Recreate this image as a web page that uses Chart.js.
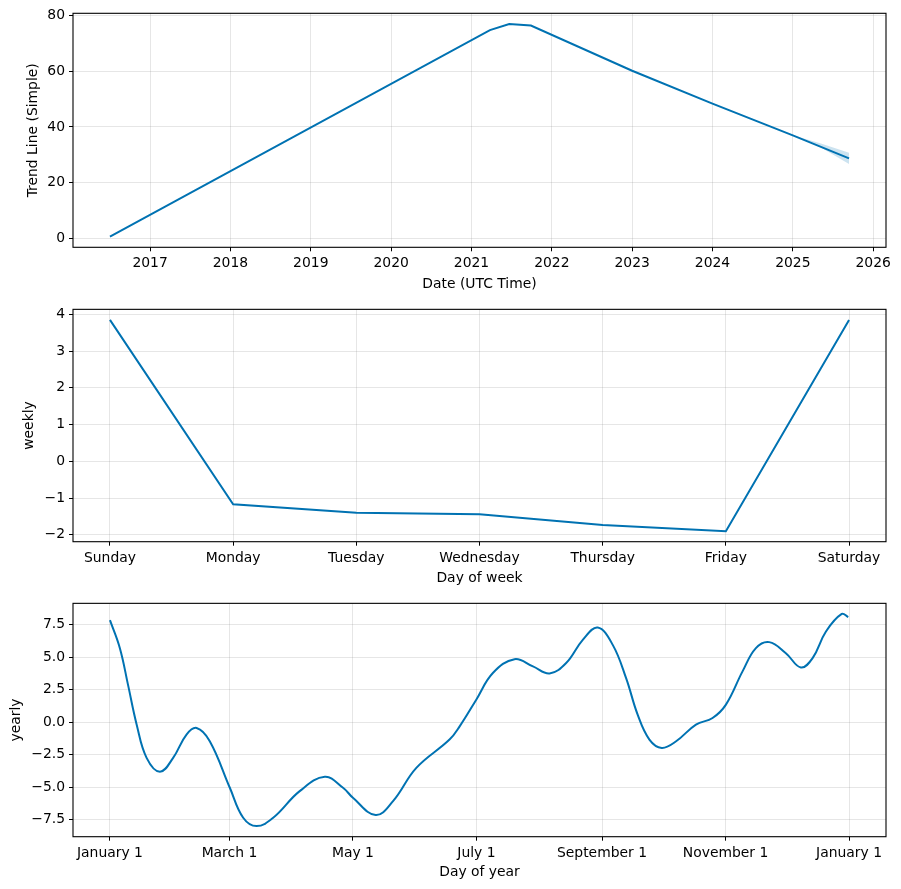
<!DOCTYPE html>
<html>
<head>
<meta charset="utf-8">
<script src="https://cdn.jsdelivr.net/npm/chart.js@4/dist/chart.umd.min.js"></script>
<style>
  html, body { margin: 0; padding: 0; background: #fff; }
  body { width: 901px; height: 889px; position: relative; overflow: hidden; }
  .box { position: absolute; left: 0; width: 901px; }
</style>
</head>
<body>
<div class="box" style="top:0px;height:297px"><canvas id="c1"></canvas></div>
<div class="box" style="top:297px;height:294px"><canvas id="c2"></canvas></div>
<div class="box" style="top:591px;height:294px"><canvas id="c3"></canvas></div>
<script>
// ---------- DATA ----------
// Trend (decimal years)
const trendYears  = [2016.50, 2021.23, 2021.47, 2021.74, 2023.00, 2024.00, 2025.00, 2025.70];
const trendValues = [0.6, 74.8, 77.0, 76.4, 60.2, 48.4, 37.0, 28.7];
const bandYears   = [2025.00, 2025.35, 2025.70];
const bandUpper   = [37.0, 34.1, 30.7];
const bandLower   = [37.0, 32.6, 26.7];
const trendTicks  = [2017, 2018, 2019, 2020, 2021, 2022, 2023, 2024, 2025, 2026];
const trendYTicks = [0, 20, 40, 60, 80];

// Weekly
const weekDays   = ['Sunday', 'Monday', 'Tuesday', 'Wednesday', 'Thursday', 'Friday', 'Saturday'];
const weekValues = [3.85, -1.17, -1.40, -1.44, -1.73, -1.90, 3.85];
const weekYTicks = [-2, -1, 0, 1, 2, 3, 4];

// Yearly (day of year offset from January 1)
const yearDays = [0, 4.9, 8.9, 13.2, 18.1, 24.7, 31.2, 37.8, 42.8, 49.3, 59.2, 65.8, 72.4, 80.6, 93.7,
  106.1, 115.1, 120, 131.2, 139.8, 151.3, 167.7, 172.7, 180.9, 189.1, 199.8, 208.9, 217.1, 225.3,
  233.5, 240.9, 248.3, 254.9, 260.6, 266.4, 272.5, 279.6, 289.4, 297.6, 304.2, 312.4, 319.0,
  325.6, 333.8, 341.2, 347.0, 353.6, 361.4, 364.6];
const yearValues = [7.86, 5.7, 2.9, -0.18, -2.74, -3.81, -2.74, -0.95, -0.44, -1.46, -5.04, -7.35, -7.99, -7.35, -5.30,
  -4.20, -5.04, -5.81, -7.14, -6.07, -3.51, -1.33, -0.31, 1.74, 3.79, 4.86, 4.30, 3.76, 4.56,
  6.35, 7.29, 5.96, 3.40, 0.59, -1.33, -1.97, -1.46, -0.18, 0.33, 1.36, 3.92, 5.71,
  6.17, 5.32, 4.22, 4.94, 6.99, 8.34, 8.09];
const yearTickDays   = [0, 59, 120, 181, 243, 304, 365];
const yearTickLabels = ['January 1', 'March 1', 'May 1', 'July 1', 'September 1', 'November 1', 'January 1'];
const yearYTicks = [-7.5, -5.0, -2.5, 0.0, 2.5, 5.0, 7.5];

// ---------- STYLE ----------
const LINE = '#0072B2';
const BAND = 'rgba(0,114,178,0.2)';
const GRID = 'rgba(128,128,128,0.2)';
const FONT = { family: '"DejaVu Sans", sans-serif', size: 13.9 };
Chart.defaults.color = '#000';
Chart.defaults.font = FONT;
Chart.defaults.animation = false;

const frame = {
  id: 'frame',
  afterDraw(chart) {
    const a = chart.chartArea, c = chart.ctx;
    c.save();
    c.strokeStyle = '#000';
    c.lineWidth = 1.1;
    c.strokeRect(a.left, a.top, a.right - a.left, a.bottom - a.top);
    c.restore();
  }
};

function minus(s) { return String(s).replace('-', '\u2212'); }
function pad(lo, hi) { const m = (hi - lo) * 0.05; return [lo - m, hi + m]; }

function xy(xs, ys) { return xs.map((x, i) => ({ x: x, y: ys[i] })); }

function makeChart(id, cfg) {
  const [xmin, xmax] = pad(Math.min(...cfg.xs), Math.max(...cfg.xs));
  const [ymin, ymax] = pad(Math.min(...cfg.yAll), Math.max(...cfg.yAll));
  return new Chart(document.getElementById(id), {
    type: 'line',
    data: { datasets: cfg.datasets },
    plugins: [frame],
    options: {
      responsive: true,
      maintainAspectRatio: false,
      parsing: false,
      layout: { padding: { top: cfg.padTop, right: 15, left: 0, bottom: 0 } },
      plugins: { legend: { display: false }, tooltip: { enabled: false } },
      elements: { point: { radius: 0 } },
      scales: {
        x: {
          type: 'linear', min: xmin, max: xmax,
          afterBuildTicks: s => { s.ticks = cfg.xTicks.map(v => ({ value: v })); },
          afterFit: s => { s.height = cfg.xHeight; },
          grid: { color: GRID, lineWidth: 1, tickColor: '#000', tickLength: 4 },
          border: { display: false },
          ticks: { padding: 4, maxRotation: 0, autoSkip: false, callback: cfg.xLabel, font: FONT, color: '#000' },
          title: { display: true, text: cfg.xTitle, font: FONT, color: '#000', padding: { top: 4, bottom: 4 } }
        },
        y: {
          type: 'linear', min: ymin, max: ymax,
          afterBuildTicks: s => { s.ticks = cfg.yTicks.map(v => ({ value: v })); },
          afterFit: s => { s.width = 73; },
          grid: { color: GRID, lineWidth: 1, tickColor: '#000', tickLength: 4 },
          border: { display: false },
          ticks: { padding: 4, autoSkip: false, callback: cfg.yLabel, font: FONT, color: '#000' },
          title: { display: true, text: cfg.yTitle, font: FONT, color: '#000', padding: { top: cfg.yTitlePad, bottom: 0 } }
        }
      }
    }
  });
}

// Chart 1: trend
makeChart('c1', {
  xs: trendYears,
  yAll: trendValues.concat(bandUpper, bandLower),
  padTop: 13.3, xHeight: 49.7, yTitlePad: 25,
  xTicks: trendTicks, yTicks: trendYTicks,
  xLabel: v => String(v), yLabel: v => minus(v),
  xTitle: 'Date (UTC Time)', yTitle: 'Trend Line (Simple)',
  datasets: [
    { data: xy(bandYears, bandUpper), borderWidth: 0, borderColor: 'rgba(0,0,0,0)', fill: false, order: 3 },
    { data: xy(bandYears, bandLower), borderWidth: 0, borderColor: 'rgba(0,0,0,0)', backgroundColor: BAND, fill: '-1', order: 2 },
    { data: xy(trendYears, trendValues), borderColor: LINE, borderWidth: 2, fill: false, order: 1 }
  ]
});

// Chart 2: weekly
const weekIdx = weekDays.map((d, i) => i);
makeChart('c2', {
  xs: weekIdx,
  yAll: weekValues,
  padTop: 10.3, xHeight: 49.3, yTitlePad: 21.5,
  xTicks: weekIdx, yTicks: weekYTicks,
  xLabel: v => weekDays[v], yLabel: v => minus(v),
  xTitle: 'Day of week', yTitle: 'weekly',
  datasets: [
    { data: xy(weekIdx, weekValues), borderColor: LINE, borderWidth: 2, fill: false }
  ]
});

// Chart 3: yearly
makeChart('c3', {
  xs: yearDays.concat([0, 365]),
  yAll: yearValues,
  padTop: 11.3, xHeight: 48.3, yTitlePad: 8.5,
  xTicks: yearTickDays, yTicks: yearYTicks,
  xLabel: (v, i) => yearTickLabels[i], yLabel: v => minus(Number(v).toFixed(1)),
  xTitle: 'Day of year', yTitle: 'yearly',
  datasets: [
    { data: xy(yearDays, yearValues), borderColor: LINE, borderWidth: 2, fill: false, tension: 0.4 }
  ]
});
</script>
</body>
</html>
